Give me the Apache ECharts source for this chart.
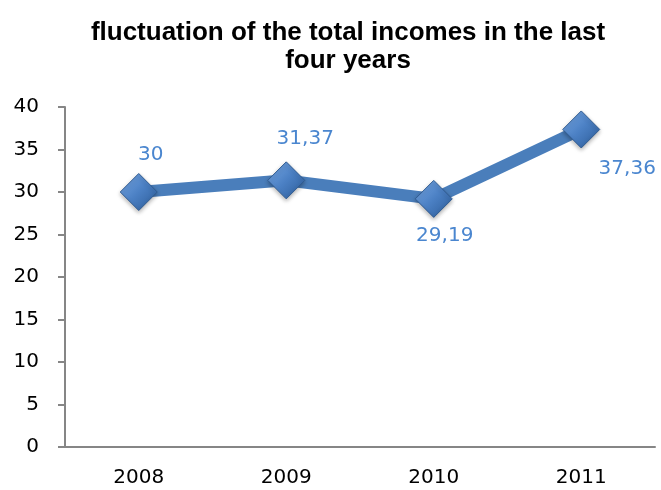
<!DOCTYPE html>
<html>
<head>
<meta charset="utf-8">
<script src="https://cdn.jsdelivr.net/npm/echarts@6/dist/echarts.min.js"></script>
<style>
  html, body { margin: 0; padding: 0; background: #fff; }
  #main { width: 661px; height: 490px; }
</style>
</head>
<body>
<div id="main"></div>
<script>
// data
var years = ['2008', '2009', '2010', '2011'];
var incomes = [30, 31.37, 29.19, 37.36];

// label placement around each marker (px)
var labelOffsets = [[12, -37], [19, -42], [11, 37], [46, 39]];

var chart = echarts.init(document.getElementById('main'));

var points = incomes.map(function (v, i) {
  return {
    value: v,
    label: { offset: labelOffsets[i] }
  };
});

var option = {
  animation: false,
  title: {
    text: 'fluctuation of the total incomes in the last\nfour years',
    left: 343,
    textAlign: 'center',
    top: 14,
    textStyle: {
      fontFamily: 'Liberation Sans',
      fontWeight: 'bold',
      fontSize: 26,
      lineHeight: 28,
      color: '#000'
    }
  },
  grid: {
    left: 65,
    right: 6,
    top: 107,
    bottom: 43
  },
  xAxis: {
    type: 'category',
    data: years,
    axisLine: { lineStyle: { color: '#868686', width: 2 } },
    axisTick: { show: false },
    axisLabel: {
      margin: 21,
      fontFamily: 'DejaVu Sans',
      fontSize: 20,
      color: '#000'
    }
  },
  yAxis: {
    type: 'value',
    min: 0,
    max: 40,
    interval: 5,
    splitLine: { show: false },
    axisLine: { show: true, lineStyle: { color: '#868686', width: 2 } },
    axisTick: { show: true, length: 7, lineStyle: { color: '#868686', width: 2 } },
    axisLabel: {
      margin: 26,
      fontFamily: 'DejaVu Sans',
      fontSize: 20,
      color: '#000'
    }
  },
  series: [
    {
      type: 'line',
      data: points,
      symbol: 'diamond',
      symbolSize: 37,
      lineStyle: { color: '#4a7ebb', width: 12 },
      itemStyle: {
        color: new echarts.graphic.LinearGradient(0, 0, 1, 1, [
          { offset: 0, color: '#7aaae6' },
          { offset: 0.5, color: '#4b80c4' },
          { offset: 1, color: '#2b5a96' }
        ]),
        borderColor: '#2f5b91',
        borderWidth: 1,
        shadowColor: 'rgba(0,0,0,0.3)',
        shadowBlur: 4,
        shadowOffsetY: 2
      },
      label: {
        show: true,
        position: 'inside',
        fontFamily: 'DejaVu Sans',
        fontSize: 20,
        color: '#4a86cf',
        formatter: function (p) {
          return String(p.value).replace('.', ',');
        }
      }
    }
  ]
};

chart.setOption(option);
</script>
</body>
</html>
